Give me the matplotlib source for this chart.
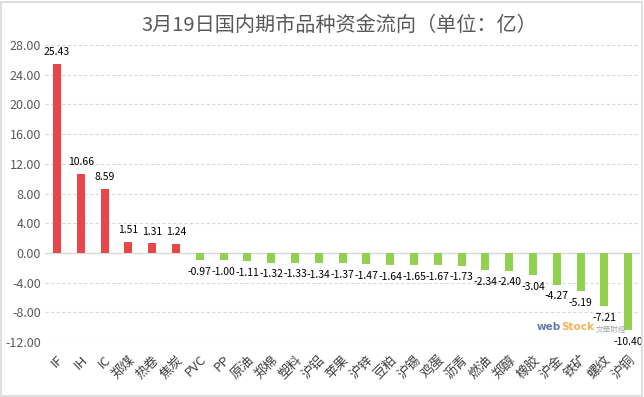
import matplotlib
matplotlib.use("Agg")
import matplotlib.pyplot as plt
from matplotlib.patches import Rectangle

plt.rcParams['font.family'] = ['Noto Sans CJK SC', 'DejaVu Sans']

# 品种及资金流向（亿）
names = ["IF", "IH", "IC", "郑煤", "热卷", "焦炭", "PVC", "PP", "原油", "郑棉",
         "塑料", "沪铝", "苹果", "沪锌", "豆粕", "沪锡", "鸡蛋", "沥青", "燃油",
         "郑醇", "橡胶", "沪金", "铁矿", "螺纹", "沪铜"]
flows = [25.43, 10.66, 8.59, 1.51, 1.31, 1.24, -0.97, -1.00, -1.11, -1.32,
         -1.33, -1.34, -1.37, -1.47, -1.64, -1.65, -1.67, -1.73, -2.34,
         -2.40, -3.04, -4.27, -5.19, -7.21, -10.40]
yticks = [-12, -8, -4, 0, 4, 8, 12, 16, 20, 24, 28]

red = "#E8474A"
green = "#92D050"

fig = plt.figure(figsize=(6.44, 3.97), dpi=100)
ax = fig.add_axes([0.070, 0.1385, 0.924, 0.748])

x = list(range(len(names)))
colors = [red if v > 0 else green for v in flows]
ax.bar(x, flows, width=0.34, color=colors, zorder=3)

for xi, v in zip(x, flows):
    if v > 0:
        ax.text(xi, v + 0.9, f"{v:.2f}", ha="center", va="bottom",
                fontsize=7.5, color="black")
    else:
        ax.text(xi, v - 0.9, f"{v:.2f}", ha="center", va="top",
                fontsize=7.5, color="black")

ax.set_xlim(-0.5, len(names) - 0.5)
ax.set_ylim(-12, 28)
ax.set_yticks(yticks)
ax.set_yticklabels([f"{t:.2f}" for t in yticks], fontsize=9, color="#595959")
ax.yaxis.grid(True, linestyle=(0, (3, 2)), color="#D9D9D9", linewidth=0.8, zorder=0)
ax.axhline(0, color="#D9D9D9", linewidth=1.0, zorder=2)

ax.set_xticks(x)
ax.set_xticklabels(names, rotation=45, ha="right", va="top",
                   rotation_mode="anchor", fontsize=9.5, color="#404040")
ax.tick_params(axis="x", length=0, pad=8)
ax.tick_params(axis="y", length=0, pad=3)
for s in ax.spines.values():
    s.set_visible(False)

fig.text(0.527, 0.937, "3月19日国内期市品种资金流向（单位：亿）", ha="center",
         va="center", fontsize=14.5, color="#595959")

# 水印
fig.text(0.833, 0.168, "web", color="#3B5998", fontsize=7.5, fontweight="bold",
         family="DejaVu Sans", alpha=0.8)
fig.text(0.871, 0.168, "Stock", color="#F0A030", fontsize=7.5, fontweight="bold",
         family="DejaVu Sans", alpha=0.8)
fig.text(0.925, 0.163, "文華財經", color="#A0A0A0", fontsize=5.5, alpha=0.9)

fig.patches.append(Rectangle((0.002, 0.003), 0.995, 0.993, transform=fig.transFigure,
                             fill=False, edgecolor="#D9D9D9", linewidth=1.2))

fig.savefig("out.png", dpi=100)
